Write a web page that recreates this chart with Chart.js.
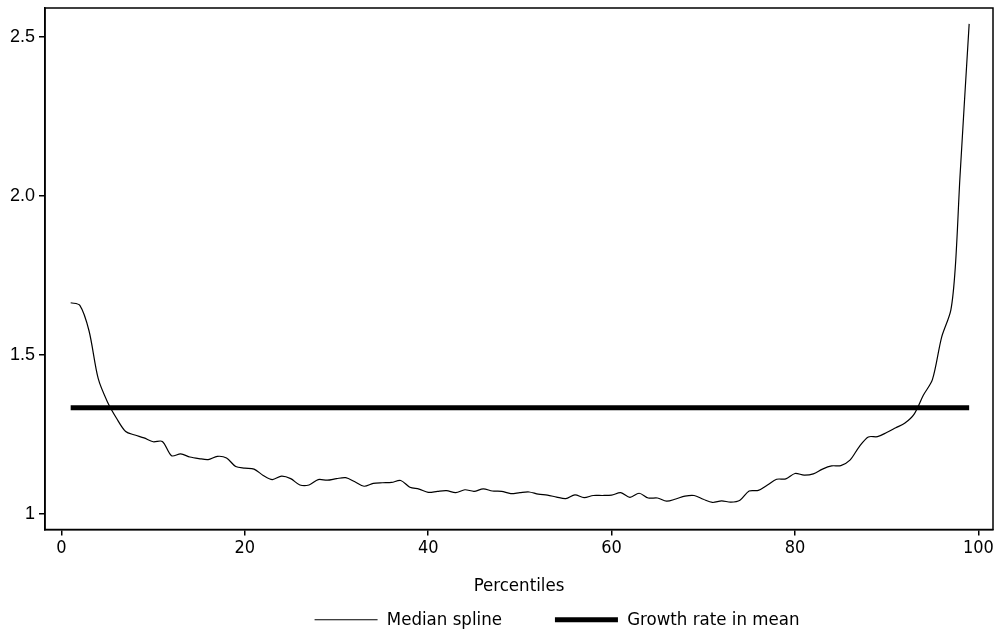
<!DOCTYPE html>
<html>
<head>
<meta charset="utf-8">
<script src="https://cdn.jsdelivr.net/npm/chart.js@4"></script>
<style>
  html, body { margin: 0; padding: 0; background: #fff; }
  #wrap { width: 996px; height: 631px; }
</style>
</head>
<body>
<div id="wrap"><canvas id="myChart" width="996" height="631"></canvas></div>
<script>
// percentiles and the median spline
const percentiles = [1, 2, 3, 4, 5, 6, 7, 8, 9, 10, 11, 12, 13, 14, 15, 16, 17, 18, 19, 20,
  21, 22, 23, 24, 25, 26, 27, 28, 29, 30, 31, 32, 33, 34, 35, 36, 37, 38, 39, 40,
  41, 42, 43, 44, 45, 46, 47, 48, 49, 50, 51, 52, 53, 54, 55, 56, 57, 58, 59, 60,
  61, 62, 63, 64, 65, 66, 67, 68, 69, 70, 71, 72, 73, 74, 75, 76, 77, 78, 79, 80,
  81, 82, 83, 84, 85, 86, 87, 88, 89, 90, 91, 92, 93, 94, 95, 96, 97, 97.5, 98, 99]
const medianSpline = [1.663, 1.655, 1.575, 1.425, 1.352, 1.300, 1.258, 1.247, 1.238, 1.226,
  1.227, 1.182, 1.188, 1.178, 1.173, 1.170, 1.180, 1.175, 1.148, 1.143,
  1.140, 1.120, 1.107, 1.118, 1.110, 1.090, 1.090, 1.107, 1.105, 1.110,
  1.113, 1.100, 1.086, 1.095, 1.097, 1.098, 1.104, 1.083, 1.077, 1.067,
  1.070, 1.072, 1.066, 1.075, 1.070, 1.078, 1.071, 1.070, 1.063, 1.066,
  1.068, 1.061, 1.058, 1.052, 1.047, 1.059, 1.050, 1.057, 1.057, 1.058,
  1.066, 1.051, 1.064, 1.049, 1.049, 1.039, 1.046, 1.055, 1.057, 1.045,
  1.035, 1.040, 1.036, 1.042, 1.071, 1.073, 1.090, 1.108, 1.109, 1.126,
  1.121, 1.125, 1.140, 1.150, 1.151, 1.168, 1.210, 1.241, 1.242, 1.255,
  1.270, 1.285, 1.313, 1.372, 1.422, 1.555, 1.640, 1.780, 2.060, 2.540]

const meanX = [1, 99]
const meanGrowth = [1.333, 1.333]

const xTicks = [0, 20, 40, 60, 80, 100]
const yTicks = [1, 1.5, 2, 2.5]

const condensed = '"DejaVu Sans Condensed", "DejaVu Sans", sans-serif'

const ctx = document.getElementById('myChart').getContext('2d');

// box round the plot area
const frame = {
  id: 'frame',
  afterDraw(chart) {
    const a = chart.chartArea, c = chart.ctx
    c.save()
    c.strokeStyle = '#000'
    c.lineWidth = 1.5
    c.strokeRect(a.left, a.top, a.right - a.left, a.bottom - a.top)
    c.restore()
  }
}

// the legend in the picture sits a bit right of the plot centre
const legendShift = {
  id: 'legendShift',
  afterLayout(chart) {
    chart.legend.left += 38
    chart.legend.right += 38
  }
}

new Chart(ctx, {
  type: 'line',
  data: {
    datasets: [{
      label: 'Median spline',
      data: percentiles.map((p, i) => ({ x: p, y: medianSpline[i] })),
      borderColor: '#000',
      backgroundColor: '#000',
      borderWidth: 1.2,
      pointRadius: 0,
      tension: 0.3,
      pointStyle: 'line'
    }, {
      label: 'Growth rate in mean',
      data: meanX.map((p, i) => ({ x: p, y: meanGrowth[i] })),
      borderColor: '#000',
      backgroundColor: '#000',
      borderWidth: 5,
      pointRadius: 0,
      borderCapStyle: 'butt',
      pointStyle: 'line'
    }]
  },
  options: {
    responsive: false,
    animation: false,
    layout: { padding: { top: 8, right: 3, left: 0, bottom: -8 } },
    plugins: {
      tooltip: { enabled: false },
      legend: {
        position: 'bottom',
        fullSize: false,
        labels: {
          usePointStyle: true,
          pointStyleWidth: 63,
          color: '#000',
          padding: 53,
          font: { family: condensed, size: 18.5 }
        }
      }
    },
    scales: {
      x: {
        type: 'linear',
        min: -1.8,
        max: 101.6,
        afterBuildTicks: (s) => { s.ticks = xTicks.map(v => ({ value: v })) },
        afterFit: (s) => { s.height = 28 },
        grid: { display: true, drawOnChartArea: false, drawTicks: true, tickLength: 6, color: '#000', lineWidth: 1.5 },
        border: { display: true, color: '#000', width: 1.5 },
        ticks: { color: '#000', padding: 2, maxRotation: 0, font: { family: condensed, size: 18 } },
        title: { display: true, text: 'Percentiles', color: '#000', padding: { top: 0, bottom: -40 }, font: { family: condensed, size: 18.5 } }
      },
      y: {
        type: 'linear',
        min: 0.95,
        max: 2.59,
        afterBuildTicks: (s) => { s.ticks = yTicks.map(v => ({ value: v })) },
        afterFit: (s) => {
          s.width = 45
          s.paddingTop = 0
          s.paddingBottom = 0
        },
        grid: { display: true, drawOnChartArea: false, drawTicks: true, tickLength: 6, color: '#000', lineWidth: 1.5 },
        border: { display: true, color: '#000', width: 1.5 },
        ticks: {
          color: '#000',
          padding: 4,
          font: { family: '"Liberation Sans", Arial, sans-serif', size: 18 },
          callback: (v) => v === 1 ? '1' : v.toFixed(1)
        }
      }
    }
  },
  plugins: [frame, legendShift]
});
</script>
</body>
</html>
